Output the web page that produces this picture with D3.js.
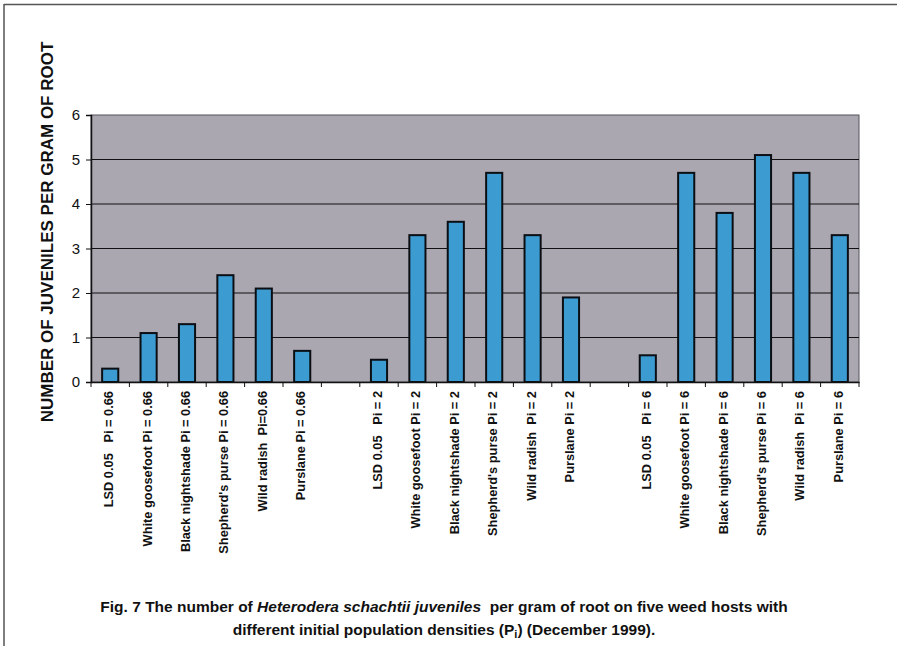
<!DOCTYPE html>
<html><head><meta charset="utf-8">
<script src="https://cdn.jsdelivr.net/npm/d3@7"></script>
<style>body{margin:0;background:#fff}svg{display:block}</style>
</head><body>
<svg id="c" width="897" height="646"></svg>
<script>
const categories = [
 "LSD 0.05   Pi = 0.66","White goosefoot Pi = 0.66","Black nightshade Pi = 0.66","Shepherd's purse Pi = 0.66","Wild radish  Pi=0.66","Purslane Pi = 0.66","",
 "LSD 0.05   Pi = 2","White goosefoot Pi = 2","Black nightshade Pi = 2","Shepherd's purse Pi = 2","Wild radish  Pi = 2","Purslane Pi = 2"," ",
 "LSD 0.05   Pi = 6","White goosefoot Pi = 6","Black nightshade Pi = 6","Shepherd's purse Pi = 6","Wild radish  Pi = 6","Purslane Pi = 6"];
const values = [0.3,1.1,1.3,2.4,2.1,0.7,null, 0.5,3.3,3.6,4.7,3.3,1.9,null, 0.6,4.7,3.8,5.1,4.7,3.3];
const yTicks = [0,1,2,3,4,5,6];
const yTitle = "NUMBER OF JUVENILES PER GRAM OF ROOT";

const svg = d3.select("#c");
// outer frame
svg.append("line").attr("x1",4).attr("x2",897).attr("y1",4.5).attr("y2",4.5).attr("stroke","#555").attr("stroke-width",1.5);
svg.append("line").attr("x1",4).attr("x2",4).attr("y1",4).attr("y2",646).attr("stroke","#555").attr("stroke-width",1.5);

const L=91,R=859,T=115,B=382;
const x = d3.scaleBand().domain(categories).range([L,R]).paddingInner(0).paddingOuter(0);
const y = d3.scaleLinear().domain([0,6]).range([B,T]);

svg.append("rect").attr("x",L).attr("y",T).attr("width",R-L).attr("height",B-T).attr("fill","#aaa7b1").attr("stroke","#55535a").attr("stroke-width",1);

// grid
svg.append("g").selectAll("line").data(yTicks.filter(d=>d>0&&d<6)).join("line")
 .attr("x1",L).attr("x2",R).attr("y1",d=>y(d)).attr("y2",d=>y(d)).attr("stroke","#111").attr("stroke-width",1);

// bars
const bw = x.bandwidth()*0.42;
svg.append("g").selectAll("rect").data(categories.map((c,i)=>({c,v:values[i]})).filter(d=>d.v!=null)).join("rect")
 .attr("x",d=>x(d.c)+x.bandwidth()/2-bw/2).attr("width",bw)
 .attr("y",d=>y(d.v)).attr("height",d=>B-y(d.v))
 .attr("fill","#3c9bd1").attr("stroke","#0b0f14").attr("stroke-width",2);

// y axis
const ya = svg.append("g").attr("transform",`translate(${L},0)`)
 .call(d3.axisLeft(y).tickValues(yTicks).tickSize(5).tickPadding(6).tickFormat(d3.format("d")));
ya.select(".domain").attr("stroke","#111").attr("stroke-width",1.5);
ya.selectAll(".tick line").attr("stroke","#111");
ya.selectAll("text").attr("font-family","Liberation Sans, Arial, sans-serif").attr("font-size",15).attr("fill","#111");

// x axis
const xa = svg.append("g").attr("transform",`translate(0,${B})`)
 .call(d3.axisBottom(x).tickSize(0).tickFormat(""));
xa.select(".domain").attr("stroke","#111").attr("stroke-width",1.5);
xa.selectAll(".tick").remove();
xa.selectAll("line.bt").data(d3.range(categories.length+1)).join("line").attr("class","bt")
 .attr("x1",i=>L+i*x.step()).attr("x2",i=>L+i*x.step()).attr("y1",0).attr("y2",5).attr("stroke","#111");
svg.append("g").selectAll("text").data(categories).join("text")
 .attr("transform",d=>`translate(${x(d)+x.bandwidth()/2+3},${B+9}) rotate(-90)`)
 .attr("text-anchor","end").attr("xml:space","preserve").style("white-space","pre")
 .attr("font-family","Liberation Sans, Arial, sans-serif").attr("font-weight","bold").attr("font-size",12.8).attr("fill","#111")
 .text(d=>d.trim()?d:"");

// y title
svg.append("text").attr("transform","translate(53,232) rotate(-90)").attr("text-anchor","middle")
 .attr("font-family","Liberation Sans, Arial, sans-serif").attr("font-weight","bold").attr("font-size",17).attr("fill","#111")
 .text(yTitle);

// caption
const cap = svg.append("g").attr("font-family","Liberation Sans Narrow, Arial Narrow, Liberation Sans, sans-serif").attr("font-weight","bold").attr("fill","#111").attr("text-anchor","middle");
const t1 = cap.append("text").attr("x",444).attr("y",612).attr("font-size",15.5).attr("xml:space","preserve");
t1.append("tspan").text("Fig. 7 The number of ");
t1.append("tspan").attr("font-style","italic").text("Heterodera schachtii juveniles");
t1.append("tspan").text("  per gram of root on five weed hosts with");
const t2 = cap.append("text").attr("x",444).attr("y",635).attr("font-size",15.5);
t2.append("tspan").text("different initial population densities (P");
t2.append("tspan").attr("font-size",11).attr("dy",3).text("i");
t2.append("tspan").attr("dy",-3).text(") (December 1999).");
</script>
</body></html>
